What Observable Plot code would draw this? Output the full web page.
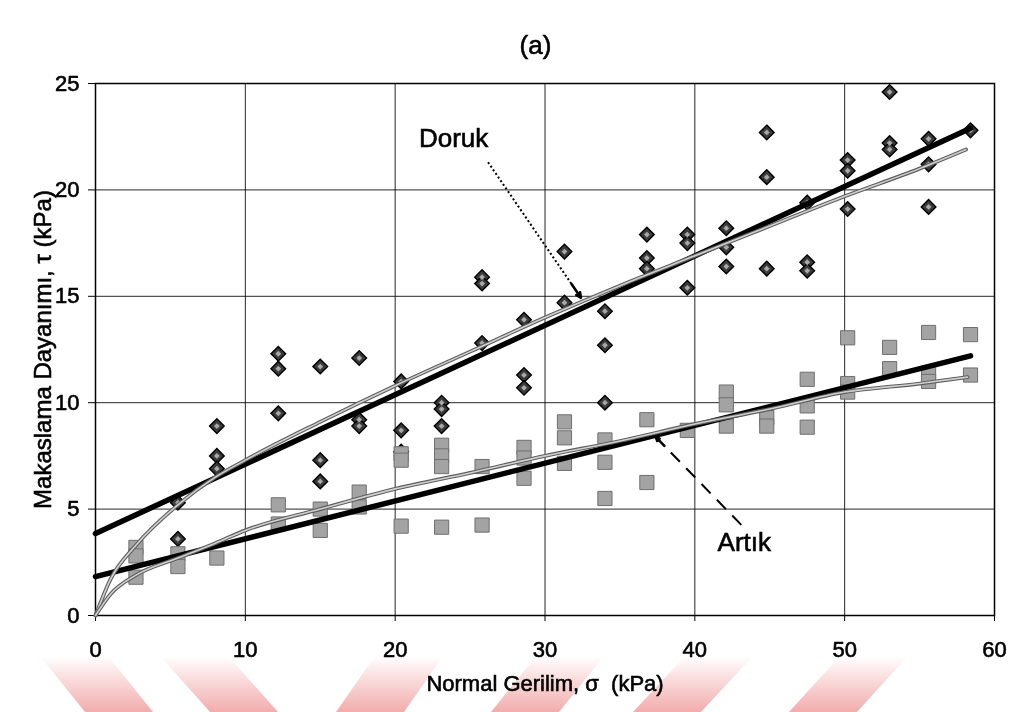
<!DOCTYPE html>
<html>
<head>
<meta charset="utf-8">
<script src="https://cdn.jsdelivr.net/npm/d3@7"></script>
<script src="https://cdn.jsdelivr.net/npm/@observablehq/plot@0.6"></script>
<style>
  body { margin: 0; background: #fff; font-family: "Liberation Sans", Arial, sans-serif; }
  #wrap { position: relative; width: 1015px; height: 712px; overflow: hidden; background: #fff; }
  #title { height: 70px; box-sizing: border-box; padding-top: 30px; padding-left: 56px;
           text-align: center; font-size: 26px; line-height: 30px; color: #000;
           -webkit-text-stroke: 0.6px #000; }
  #chart svg text { stroke: #000; stroke-width: 0.6px; }
  #stripes { position: absolute; left: 0; top: 0; pointer-events: none; mix-blend-mode: multiply; }
</style>
</head>
<body>
<div id="wrap">
  <div id="title">(a)</div>
  <div id="chart"></div>
  <svg id="stripes" width="1015" height="712"></svg>
</div>
<script>
// Axis ticks
const xTicks = [0, 10, 20, 30, 40, 50, 60];
const yTicks = [0, 5, 10, 15, 20, 25];

// Peak (Doruk) shear strength measurements: normal stress σ and shear stress τ, kPa
const peakSigma = [5.5, 5.5, 8.1, 8.1, 8.1, 12.2, 12.2, 12.2, 15.0, 15.0, 15.0, 17.6, 17.6, 17.6,
  20.4, 20.4, 20.4, 23.1, 23.1, 23.1, 25.8, 25.8, 25.8, 28.6, 28.6, 28.6, 31.3, 31.3,
  34.0, 34.0, 34.0, 36.8, 36.8, 36.8, 39.5, 39.5, 39.5, 42.1, 42.1, 42.1, 44.8, 44.8, 44.8,
  47.5, 47.5, 47.5, 50.2, 50.2, 50.2, 53.0, 53.0, 53.0, 55.6, 55.6, 55.6, 58.4];
const peakTau = [3.6, 5.3, 8.9, 7.5, 6.9, 12.3, 11.6, 9.5, 11.7, 7.3, 6.3, 12.1, 9.2, 8.9,
  11.0, 8.7, 7.7, 10.0, 9.7, 8.9, 15.9, 15.6, 12.8, 13.9, 11.3, 10.7, 17.1, 14.7,
  14.3, 12.7, 10.0, 17.9, 16.8, 16.3, 17.9, 17.5, 15.4, 18.2, 17.3, 16.4, 22.7, 20.6, 16.3,
  19.4, 16.6, 16.2, 21.4, 20.9, 19.1, 24.6, 22.2, 21.9, 22.4, 21.2, 19.2, 22.8];

// Residual (Artık) shear strength measurements
const residualSigma = [2.7, 2.7, 2.7, 5.5, 5.5, 8.1, 12.2, 12.2, 15.0, 15.0, 17.6, 17.6,
  20.4, 20.4, 20.4, 23.1, 23.1, 23.1, 23.1, 25.8, 25.8, 28.6, 28.6, 28.6,
  31.3, 31.3, 31.3, 34.0, 34.0, 34.0, 36.8, 36.8, 39.5, 42.1, 42.1, 42.1, 44.8, 44.8,
  47.5, 47.5, 47.5, 50.2, 50.2, 50.2, 53.0, 53.0, 55.6, 55.6, 55.6, 58.4, 58.4];
const residualTau = [3.2, 2.8, 1.8, 2.9, 2.3, 2.7, 5.2, 4.3, 5.0, 4.0, 5.8, 5.1,
  7.6, 7.3, 4.2, 8.0, 7.5, 7.0, 4.15, 7.0, 4.25, 7.9, 7.4, 6.45,
  9.1, 8.35, 7.15, 8.25, 7.2, 5.5, 9.2, 6.25, 8.7, 10.5, 9.9, 8.9, 9.3, 8.9,
  11.1, 9.85, 8.85, 13.05, 10.9, 10.5, 12.6, 11.6, 13.3, 11.4, 11.0, 13.2, 11.3];

// Linear envelopes (thick black lines)
const peakLineSigma = [0, 58.4];
const peakLineTau = [3.85, 22.9];
const residualLineSigma = [0, 58.4];
const residualLineTau = [1.83, 12.2];

// Curved envelopes through the origin (thin grey lines)
const peakCurveSigma = [0, 1, 2.7, 5.5, 8, 10, 15, 20, 25, 30, 35, 40, 45, 50, 55, 58.1];
const peakCurveTau   = [0, 1.7, 3.3, 5.2, 6.5, 7.3, 9.1, 10.8, 12.4, 14.0, 15.5, 16.9, 18.3, 19.7, 21.0, 21.9];
const residualCurveSigma = [0, 1, 2.7, 5.5, 8, 10, 15, 20, 25, 30, 35, 40, 45, 50, 55, 58.2];
const residualCurveTau   = [0, 1.0, 1.9, 2.7, 3.4, 4.0, 5.0, 5.95, 6.7, 7.5, 8.2, 9.0, 9.7, 10.5, 10.9, 11.2];

// Annotation labels and their pointer arrows (σ, τ)
const labelText = ["Doruk", "Artık"];
const labelSigma = [23.9, 43.3];
const labelTau = [22.4, 3.4];
const arrowFromSigma = [26.2, 43.1];
const arrowFromTau = [21.3, 4.26];
const arrowToSigma = [32.4, 37.4];
const arrowToTau = [14.93, 8.38];

const rows = (xs, ys) => xs.map((x, i) => ({x, y: ys[i]}));
const peak = rows(peakSigma, peakTau);
const residual = rows(residualSigma, residualTau);
const pointers = labelText.map((t, i) => {
  const x1 = arrowFromSigma[i], y1 = arrowFromTau[i], x2 = arrowToSigma[i], y2 = arrowToTau[i];
  return {t, x1, y1, x2, y2, hx: x2 + (x1 - x2) * 0.1, hy: y2 + (y1 - y2) * 0.1,
          lx: labelSigma[i], ly: labelTau[i]};
});

const font = "Liberation Sans, Arial, sans-serif";

const chart = Plot.plot({
  width: 1015,
  height: 642,
  marginLeft: 95,
  marginRight: 21,
  marginTop: 13,
  marginBottom: 97,
  x: {domain: [0, 60]},
  y: {domain: [0, 25]},
  style: {fontFamily: font, background: "transparent", overflow: "visible", color: "#000"},
  marks: [
    Plot.gridX(xTicks, {stroke: "#000", strokeOpacity: 0.85, strokeWidth: 1}),
    Plot.gridY(yTicks, {stroke: "#000", strokeOpacity: 0.85, strokeWidth: 1}),
    Plot.axisX(xTicks, {tickSize: 6, tickPadding: 20, fontSize: 22, label: null, tickFormat: d => String(d)}),
    Plot.axisY(yTicks, {tickSize: 7, tickPadding: 9, fontSize: 22, label: null, tickFormat: d => String(d)}),
    Plot.frame({stroke: "#000", strokeWidth: 1.5}),

    // peak measurements: dark diamonds
    Plot.dot(peak, {x: "x", y: "y", symbol: "diamond2", r: 6.6, fill: "#3a3a3a", stroke: "#000", strokeWidth: 1.4}),
    Plot.dot(peak, {x: "x", y: "y", symbol: "diamond2", r: 2.6, fill: "#a8a8a8"}),

    // residual measurements: grey squares
    Plot.dot(residual, {x: "x", y: "y", symbol: "square", r: 8, fill: "#a3a3a3", stroke: "#6f6f6f", strokeWidth: 1}),

    // linear envelopes
    Plot.line(rows(peakLineSigma, peakLineTau), {x: "x", y: "y", stroke: "#000", strokeWidth: 5.5}),
    Plot.line(rows(residualLineSigma, residualLineTau), {x: "x", y: "y", stroke: "#000", strokeWidth: 5.5}),

    // curved envelopes
    Plot.line(rows(peakCurveSigma, peakCurveTau), {x: "x", y: "y", curve: "monotone-x", stroke: "#5e5e5e", strokeWidth: 3.8}),
    Plot.line(rows(peakCurveSigma, peakCurveTau), {x: "x", y: "y", curve: "monotone-x", stroke: "#d0d0d0", strokeWidth: 1.6}),
    Plot.line(rows(residualCurveSigma, residualCurveTau), {x: "x", y: "y", curve: "monotone-x", stroke: "#5e5e5e", strokeWidth: 3.8}),
    Plot.line(rows(residualCurveSigma, residualCurveTau), {x: "x", y: "y", curve: "monotone-x", stroke: "#d0d0d0", strokeWidth: 1.6}),

    // pointers: dotted to the peak envelope, dashed to the residual envelope
    Plot.link(pointers.slice(0, 1), {x1: "x1", y1: "y1", x2: "hx", y2: "hy", stroke: "#000", strokeWidth: 2,
      strokeDasharray: "2,2.4"}),
    Plot.link(pointers.slice(1), {x1: "x1", y1: "y1", x2: "hx", y2: "hy", stroke: "#000", strokeWidth: 2,
      strokeDasharray: "13,9"}),
    Plot.arrow(pointers, {x1: "hx", y1: "hy", x2: "x2", y2: "y2", stroke: "#000", strokeWidth: 2.6,
      headLength: 11, headAngle: 50}),
    Plot.text(pointers, {x: "lx", y: "ly", text: "t", fontSize: 26, fill: "#000"}),

    // axis titles
    Plot.text(["Normal Gerilim, σ  (kPa)"], {frameAnchor: "bottom", dy: 75, fontSize: 22, fill: "#000"}),
    Plot.text(["Makaslama Dayanımı, τ (kPa)"], {frameAnchor: "left", textAnchor: "middle", rotate: -90,
      dx: -52, fontSize: 24, fill: "#000"})
  ]
});
document.getElementById("chart").appendChild(chart);

// faint diagonal stripes along the bottom edge of the page
const stripeTopX = [40, 160, 375, 536, 685, 840];
const stripeBottomX = [85, 210, 336, 491, 633, 789];
const stripeWidth = 68;
const band = d3.select("#stripes");
const grad = band.append("defs").append("linearGradient")
  .attr("id", "fade").attr("x1", 0).attr("x2", 0).attr("y1", 0).attr("y2", 1);
grad.append("stop").attr("offset", "0%").attr("stop-color", "#ffffff");
grad.append("stop").attr("offset", "100%").attr("stop-color", "#f2acac");
band.selectAll("polygon")
  .data(stripeTopX)
  .join("polygon")
  .attr("fill", "url(#fade)")
  .attr("points", (t, i) => {
    const b = stripeBottomX[i], y0 = 656, y1 = 712;
    return `${t},${y0} ${t + stripeWidth},${y0} ${b + stripeWidth},${y1} ${b},${y1}`;
  });
</script>
</body>
</html>
